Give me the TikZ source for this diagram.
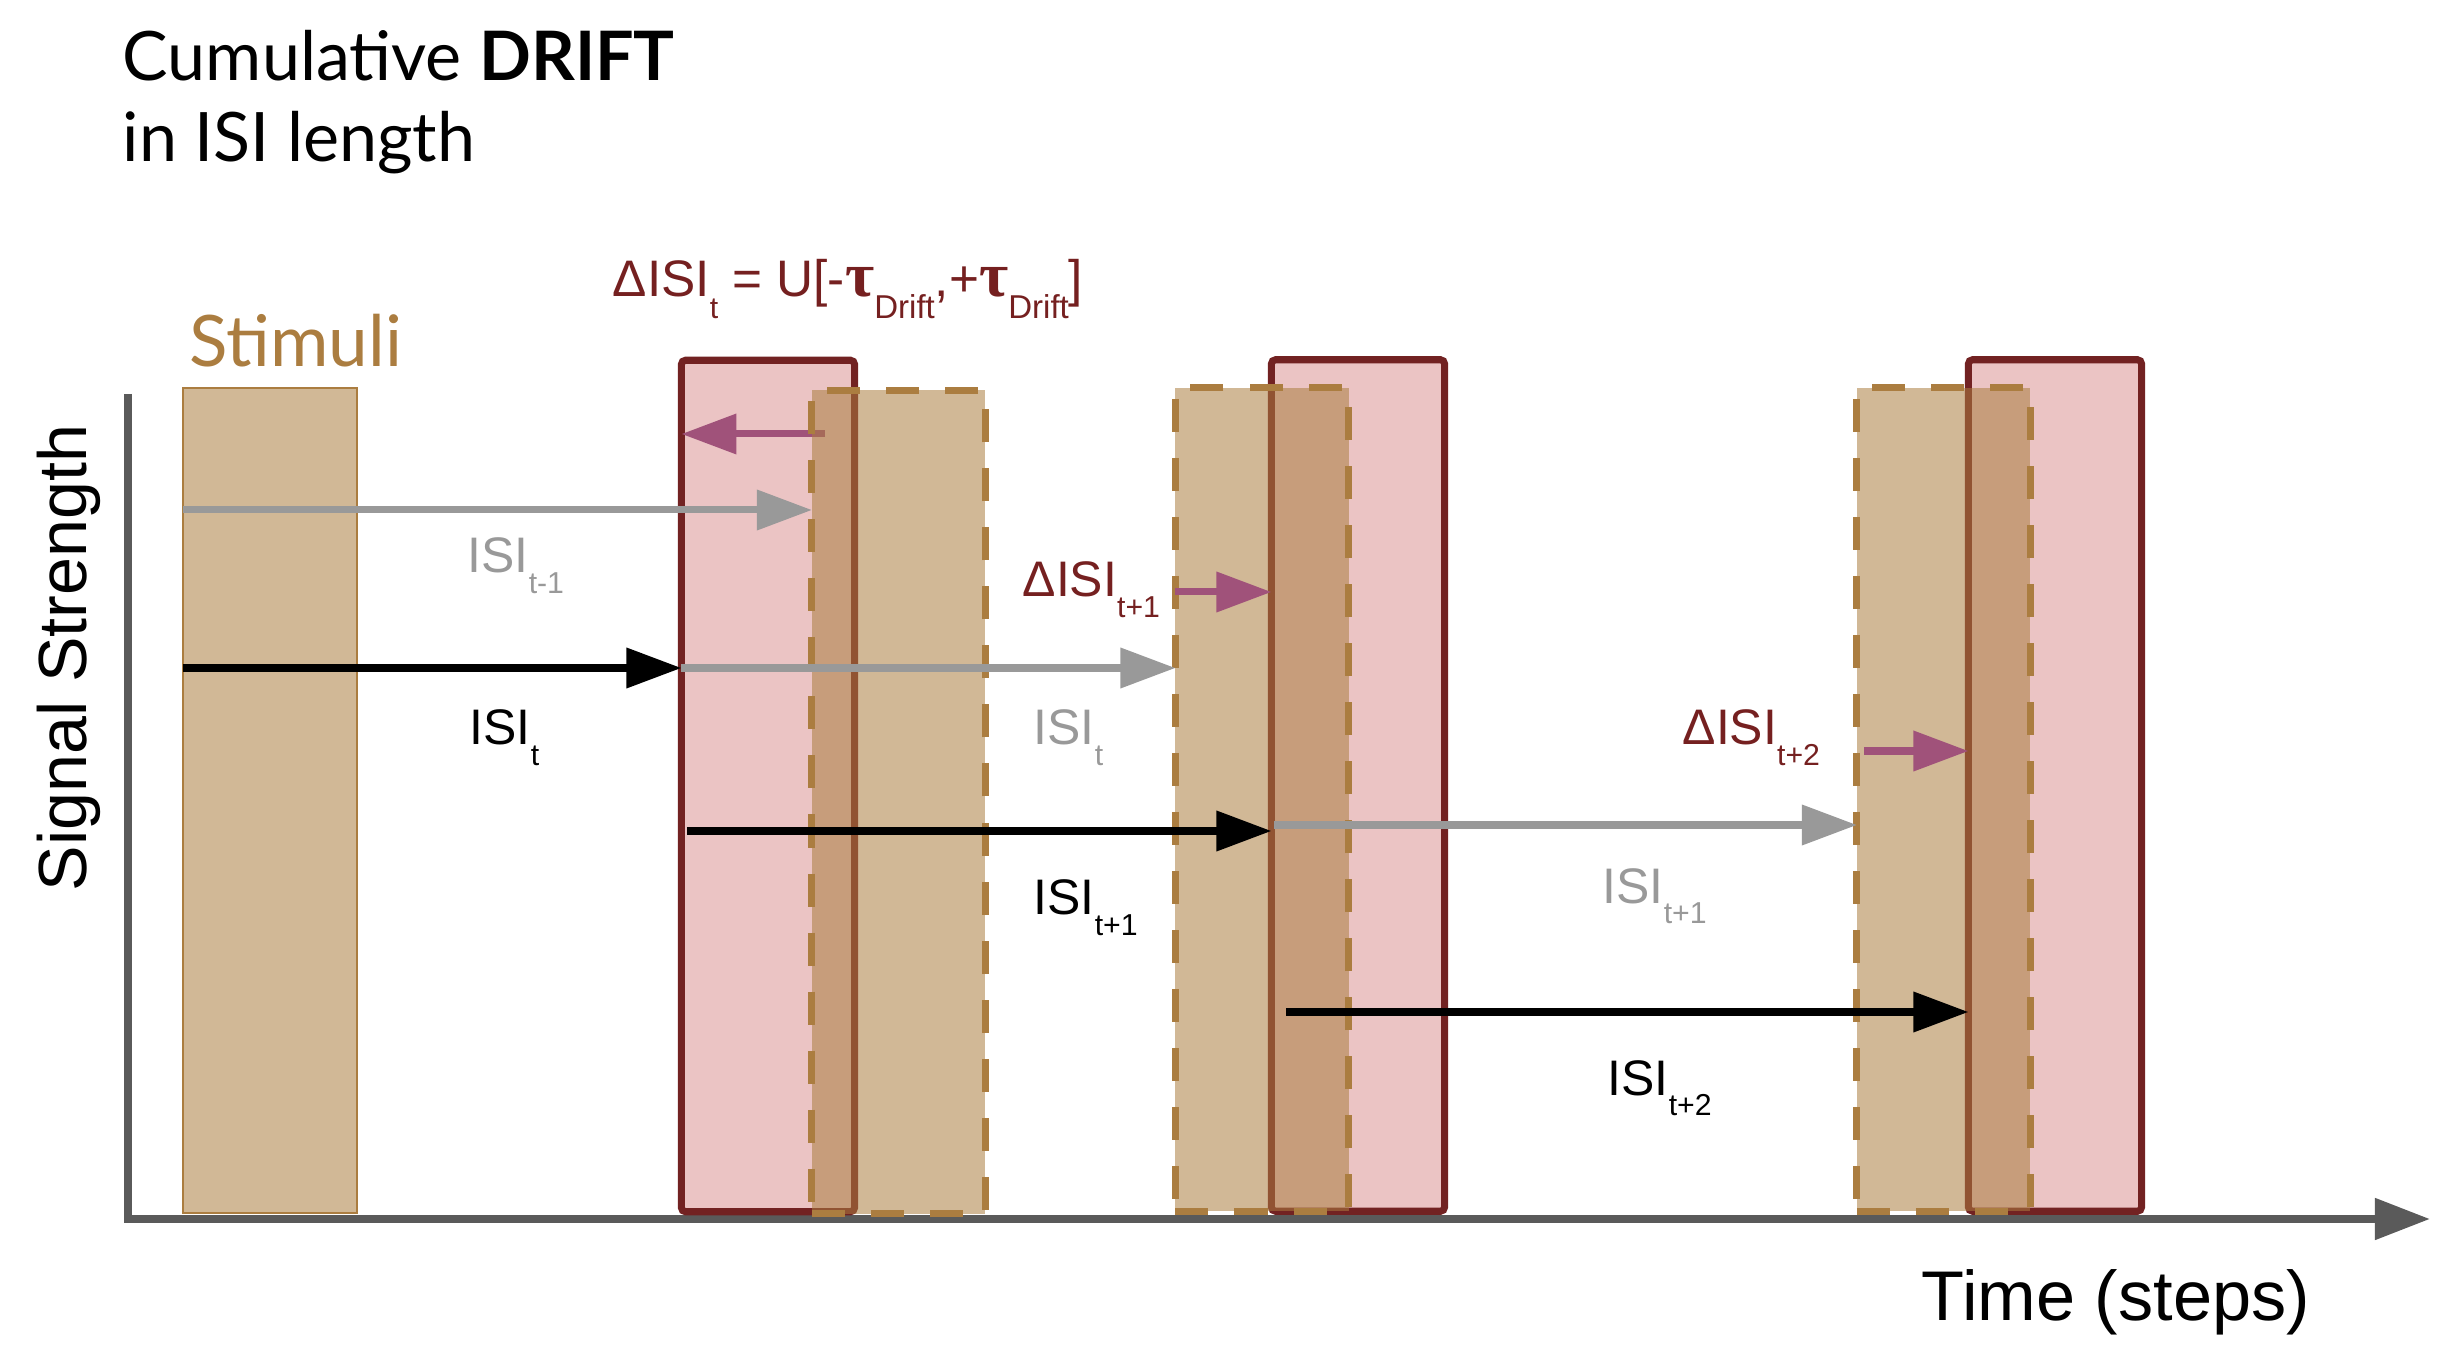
\documentclass[tikz,border=0pt]{standalone}
\usepackage{fontspec}
\setmainfont{Liberation Sans}
\newfontfamily\headfont{Lato}
\newfontfamily\taufont{Liberation Serif}
\usetikzlibrary{arrows.meta}

\newcommand{\lsub}[1]{\raisebox{-0.42em}{\fontsize{8.6}{9}\selectfont #1}}
\newcommand{\tauD}{{\taufont\bfseries\fontsize{18}{18}\selectfont τ}\raisebox{-0.42em}{\fontsize{9.4}{10}\selectfont Drift}}

\begin{document}
\begin{tikzpicture}[x=0.01cm, y=-0.01cm, font=\fontsize{14.2}{17}\selectfont]

\definecolor{stim_color}{RGB}{171,125,64}
\definecolor{drift_line}{RGB}{114,34,34}
\definecolor{drift_fill}{RGB}{235,196,196}
\definecolor{delta_color}{RGB}{160,82,122}
\definecolor{label_red}{RGB}{117,32,32}
\definecolor{isi_gray}{RGB}{153,153,153}
\definecolor{axis_gray}{RGB}{90,90,90}

\tikzset{
  ar/.style={-{Triangle[length=0.55cm, width=0.39cm]}, line width=0.07cm},
  axis/.style={-{Triangle[length=0.55cm, width=0.40cm]}, line width=0.08cm, draw=axis_gray},
  slot/.style={minimum width=1.73cm, minimum height=8.51cm, inner sep=0, outer sep=0},
  drifted/.style={slot, draw=drift_line, fill=drift_fill, line width=0.07cm, rounded corners=0.04cm},
  nominal/.style={slot, minimum height=8.23cm, draw=stim_color, fill=stim_color, fill opacity=0.55,
    line width=0.07cm, dash pattern=on 0.33cm off 0.26cm},
  lab/.style={inner sep=0, anchor=base west},
  big/.style={font=\fontsize{19.4}{22}\selectfont},
  head/.style={font=\headfont\fontsize{19.4}{22}\selectfont},
}

\useasboundingbox (0,0) rectangle (2453,1352);

\node[lab, head] (title1) at (122,81) {Cumulative \textbf{DRIFT}};
\node[lab, head] (title2) at (122,162) {in ISI length};

\coordinate (ytop) at (128,394);
\coordinate (origin) at (128,1219);
\coordinate (xend) at (2430,1219);
\draw[axis] (ytop) -- (origin) -- (xend);

\node[inner sep=0, anchor=base, rotate=90, big] (ylab) at (87,658) {Signal Strength};
\node[lab, font=\fontsize{20}{22}\selectfont] (xlab) at (1921,1320) {Time (steps)};

\node[slot, minimum width=1.74cm, minimum height=8.25cm, draw=stim_color, fill=stim_color,
  fill opacity=0.55, line width=0.02cm] (stim) at (270,800.5) {};
\node[lab, head, font=\headfont\fontsize{20.2}{22}\selectfont, text=stim_color] (stimlab) at (189,367) {Stimuli};

\node[drifted] (drf1) at (768,786) {};
\node[drifted] (drf2) at (1358,785.5) {};
\node[drifted] (drf3) at (2055,785.5) {};

\coordinate (d1) at (825,434);
\draw[ar, draw=delta_color] (d1) -- (d1 -| drf1.west);

\node[nominal] (nom1) at (898.5,802) {};
\node[nominal] (nom2) at (1262,799.5) {};
\node[nominal] (nom3) at (1943.5,799.5) {};

\coordinate (rowA) at (0,510);
\coordinate (rowB) at (0,668);
\coordinate (rowC) at (0,831);
\coordinate (rowD) at (0,825);
\coordinate (rowE) at (0,1012);

\draw[ar, draw=isi_gray] (stim.west |- rowA) -- (nom1.west |- rowA);
\draw[ar] (stim.west |- rowB) -- (drf1.west |- rowB);
\draw[ar, draw=isi_gray] (drf1.west |- rowB) -- (nom2.west |- rowB);
\draw[ar, shorten <=0.06cm] (drf1.west |- rowC) -- (drf2.west |- rowC);
\draw[ar, draw=isi_gray, shorten <=0.03cm] (drf2.west |- rowD) -- (nom3.west |- rowD);
\draw[ar, shorten <=0.15cm] (drf2.west |- rowE) -- (drf3.west |- rowE);

\coordinate (d2) at (0,592);
\coordinate (d3) at (1864,751);
\draw[ar, draw=delta_color] (nom2.west |- d2) -- (drf2.west |- d2);
\draw[ar, draw=delta_color] (d3) -- (d3 -| drf3.west);

\node[lab, text=label_red, font=\fontsize{14.6}{17}\selectfont] (rule) at (612,297) {ΔISI\lsub{t} = U[-\tauD,+\tauD]};
\node[lab, text=label_red] (ld2) at (1022,597) {ΔISI\lsub{t+1}};
\node[lab, text=label_red] (ld3) at (1682,745) {ΔISI\lsub{t+2}};

\node[lab, text=isi_gray] (li0) at (467,573) {ISI\lsub{t-1}};
\node[lab] (li1) at (469,745) {ISI\lsub{t}};
\node[lab, text=isi_gray] (li1b) at (1033,745) {ISI\lsub{t}};
\node[lab] (li2) at (1033,915) {ISI\lsub{t+1}};
\node[lab, text=isi_gray] (li2b) at (1602,903) {ISI\lsub{t+1}};
\node[lab] (li3) at (1607,1095) {ISI\lsub{t+2}};

\end{tikzpicture}
\end{document}
